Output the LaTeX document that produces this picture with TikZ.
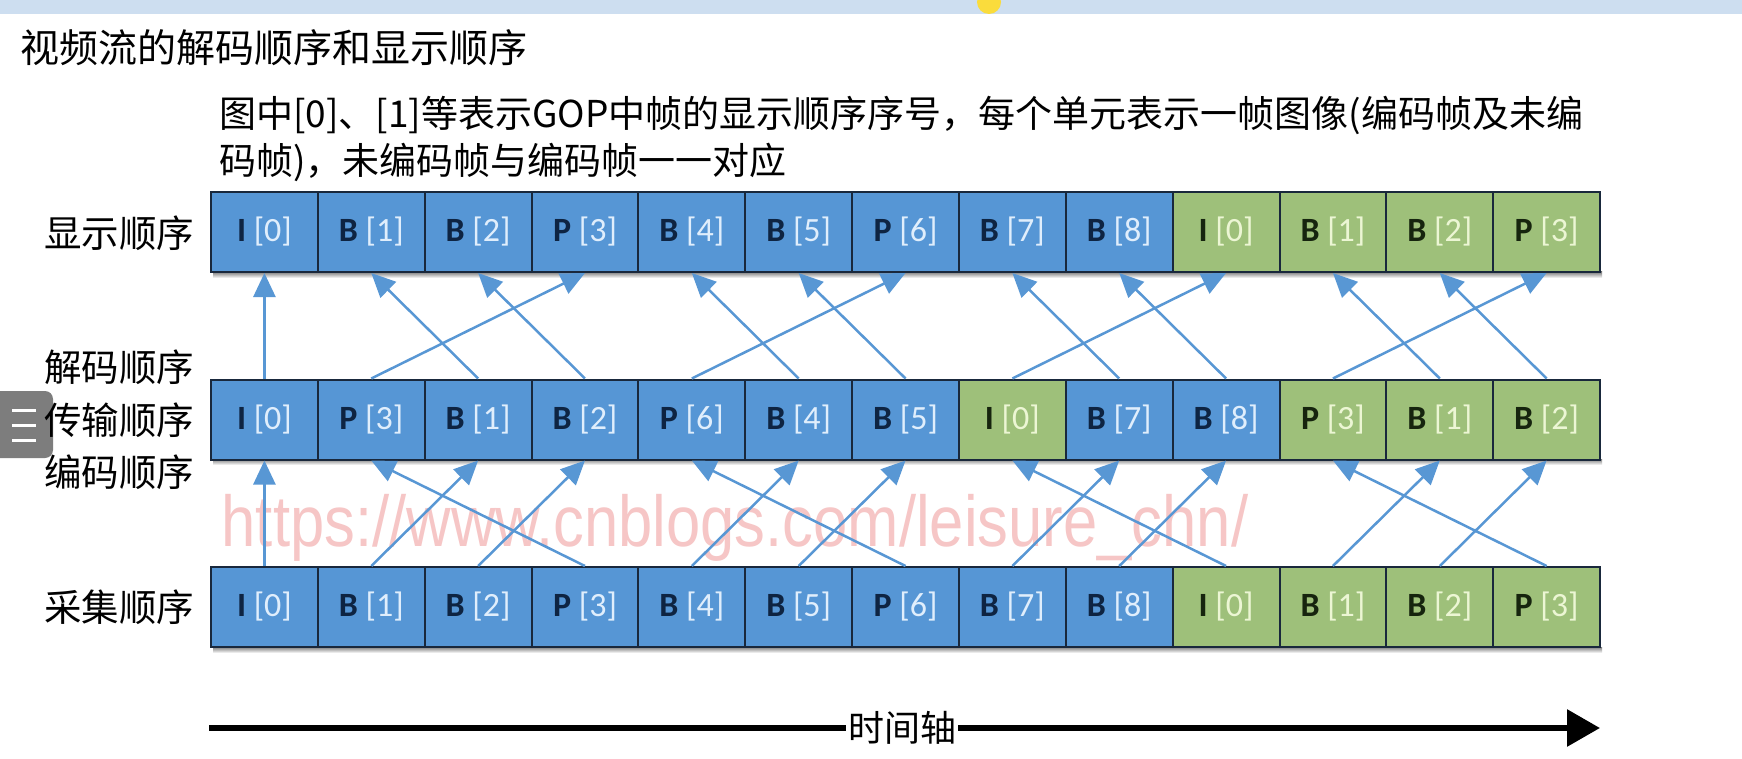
\documentclass[tikz,border=0pt]{standalone}
\usepackage{fontspec}
\setmainfont{Carlito}
\newfontfamily\cjk{Noto Sans CJK SC}
\newfontfamily\wmfont{Liberation Sans}
\usetikzlibrary{arrows.meta}
\definecolor{cblue}{RGB}{86,150,213}
\definecolor{cgreen}{RGB}{158,192,122}
\definecolor{tblue}{RGB}{224,238,252}
\definecolor{tgreen}{RGB}{236,246,212}
\definecolor{kblue}{RGB}{14,36,66}
\definecolor{kgreen}{RGB}{22,36,14}
\definecolor{arr}{RGB}{88,151,212}
\definecolor{edge}{RGB}{25,40,60}
\definecolor{wmark}{RGB}{246,198,198}
\definecolor{band}{RGB}{205,222,240}
\definecolor{shade}{RGB}{228,238,250}
\definecolor{dotyellow}{RGB}{250,220,60}
\definecolor{icongray}{RGB}{125,125,125}
\tikzset{
  cell/.style={draw=edge, line width=2pt, minimum width=106.85pt, minimum height=80pt,
    inner sep=0pt, font=\fontsize{34}{38}\selectfont},
  lab/.style={font=\cjk\fontsize{37.5}{40}\selectfont, anchor=west, inner sep=0pt},
  link/.style={draw=arr, line width=2.5pt, -{Triangle[length=24pt,width=22pt]}},
  axis/.style={draw=black, line width=6pt},
}
\begin{document}
\begin{tikzpicture}[x=1pt,y=-1pt]
\useasboundingbox (0,0) rectangle (1742,759);
\fill[white] (0,0) rectangle (1742,759);
% screenshot artefacts
\fill[band] (0,0) rectangle (1742,14);
\fill[dotyellow] (989,2) circle (12);
\fill[icongray, rounded corners=8pt] (-10,391) rectangle (53,458);
\foreach \yy in {410,425,440} \draw[white, line width=3pt] (12,\yy) -- (36,\yy);
% title
\node[anchor=west, inner sep=0pt, font=\cjk\fontsize{39}{42}\selectfont] (title) at (20,48) {视频流的解码顺序和显示顺序};
\node[anchor=north west, inner sep=0pt, align=left, font=\cjk\fontsize{37}{47}\selectfont] (note) at (219,96)
  {图中[0]、[1]等表示GOP中帧的显示顺序序号，每个单元表示一帧图像(编码帧及未编\\码帧)，未编码帧与编码帧一一对应};
% watermark
\node[inner sep=0pt, text=wmark, font=\wmfont\fontsize{72}{80}\selectfont] (wm) at (735,528)
  {\scalebox{0.855}[1]{https://www.cnblogs.com/leisure\_chn/}};
% row shadows
\foreach \yy in {272,459,647} \fill[shade] (213,\yy) rectangle (1602,\yy+6);
% row labels
\node[lab] (l1) at (44,233) {显示顺序};
\node[lab] (l2) at (44,367) {解码顺序};
\node[lab] (l3) at (44,420) {传输顺序};
\node[lab] (l4) at (44,472) {编码顺序};
\node[lab] (l5) at (44,607) {采集顺序};
% top row (display order)
\foreach \i/\t/\n/\fc/\kc/\tc in {0/I/0/cblue/kblue/tblue,1/B/1/cblue/kblue/tblue,2/B/2/cblue/kblue/tblue,3/P/3/cblue/kblue/tblue,
  4/B/4/cblue/kblue/tblue,5/B/5/cblue/kblue/tblue,6/P/6/cblue/kblue/tblue,7/B/7/cblue/kblue/tblue,8/B/8/cblue/kblue/tblue,
  9/I/0/cgreen/kgreen/tgreen,10/B/1/cgreen/kgreen/tgreen,11/B/2/cgreen/kgreen/tgreen,12/P/3/cgreen/kgreen/tgreen}
  \node[cell, fill=\fc] (t\i) at ({211+106.85*(\i+0.5)},232) {\textcolor{\kc}{\bfseries\t}\ \textcolor{\tc}{[\n]}};
% middle row (decode order)
\foreach \i/\t/\n/\fc/\kc/\tc in {0/I/0/cblue/kblue/tblue,1/P/3/cblue/kblue/tblue,2/B/1/cblue/kblue/tblue,3/B/2/cblue/kblue/tblue,
  4/P/6/cblue/kblue/tblue,5/B/4/cblue/kblue/tblue,6/B/5/cblue/kblue/tblue,7/I/0/cgreen/kgreen/tgreen,8/B/7/cblue/kblue/tblue,
  9/B/8/cblue/kblue/tblue,10/P/3/cgreen/kgreen/tgreen,11/B/1/cgreen/kgreen/tgreen,12/B/2/cgreen/kgreen/tgreen}
  \node[cell, fill=\fc] (m\i) at ({211+106.85*(\i+0.5)},419.5) {\textcolor{\kc}{\bfseries\t}\ \textcolor{\tc}{[\n]}};
% bottom row (capture order)
\foreach \i/\t/\n/\fc/\kc/\tc in {0/I/0/cblue/kblue/tblue,1/B/1/cblue/kblue/tblue,2/B/2/cblue/kblue/tblue,3/P/3/cblue/kblue/tblue,
  4/B/4/cblue/kblue/tblue,5/B/5/cblue/kblue/tblue,6/P/6/cblue/kblue/tblue,7/B/7/cblue/kblue/tblue,8/B/8/cblue/kblue/tblue,
  9/I/0/cgreen/kgreen/tgreen,10/B/1/cgreen/kgreen/tgreen,11/B/2/cgreen/kgreen/tgreen,12/P/3/cgreen/kgreen/tgreen}
  \node[cell, fill=\fc] (b\i) at ({211+106.85*(\i+0.5)},607) {\textcolor{\kc}{\bfseries\t}\ \textcolor{\tc}{[\n]}};
% decode -> display
\foreach \a/\b in {0/0,1/3,2/1,3/2,4/6,5/4,6/5,7/9,8/7,9/8,10/12,11/10,12/11}
  \draw[link] (m\a.north) -- (t\b.south);
% capture -> encode
\foreach \a/\b in {0/0,1/2,2/3,3/1,4/5,5/6,6/4,7/8,8/9,9/7,10/11,11/12,12/10}
  \draw[link] (b\a.north) -- (m\b.south);
% time axis
\coordinate (ta) at (209,728);
\coordinate (tb) at (1600,728);
\node[inner sep=2pt, font=\cjk\fontsize{36}{40}\selectfont] (tl) at (902,728) {时间轴};
\draw[axis] (ta) -- (tl.west);
\draw[axis, -{Triangle[length=33pt,width=36pt]}] (tl.east) -- (tb);
\end{tikzpicture}
\end{document}
